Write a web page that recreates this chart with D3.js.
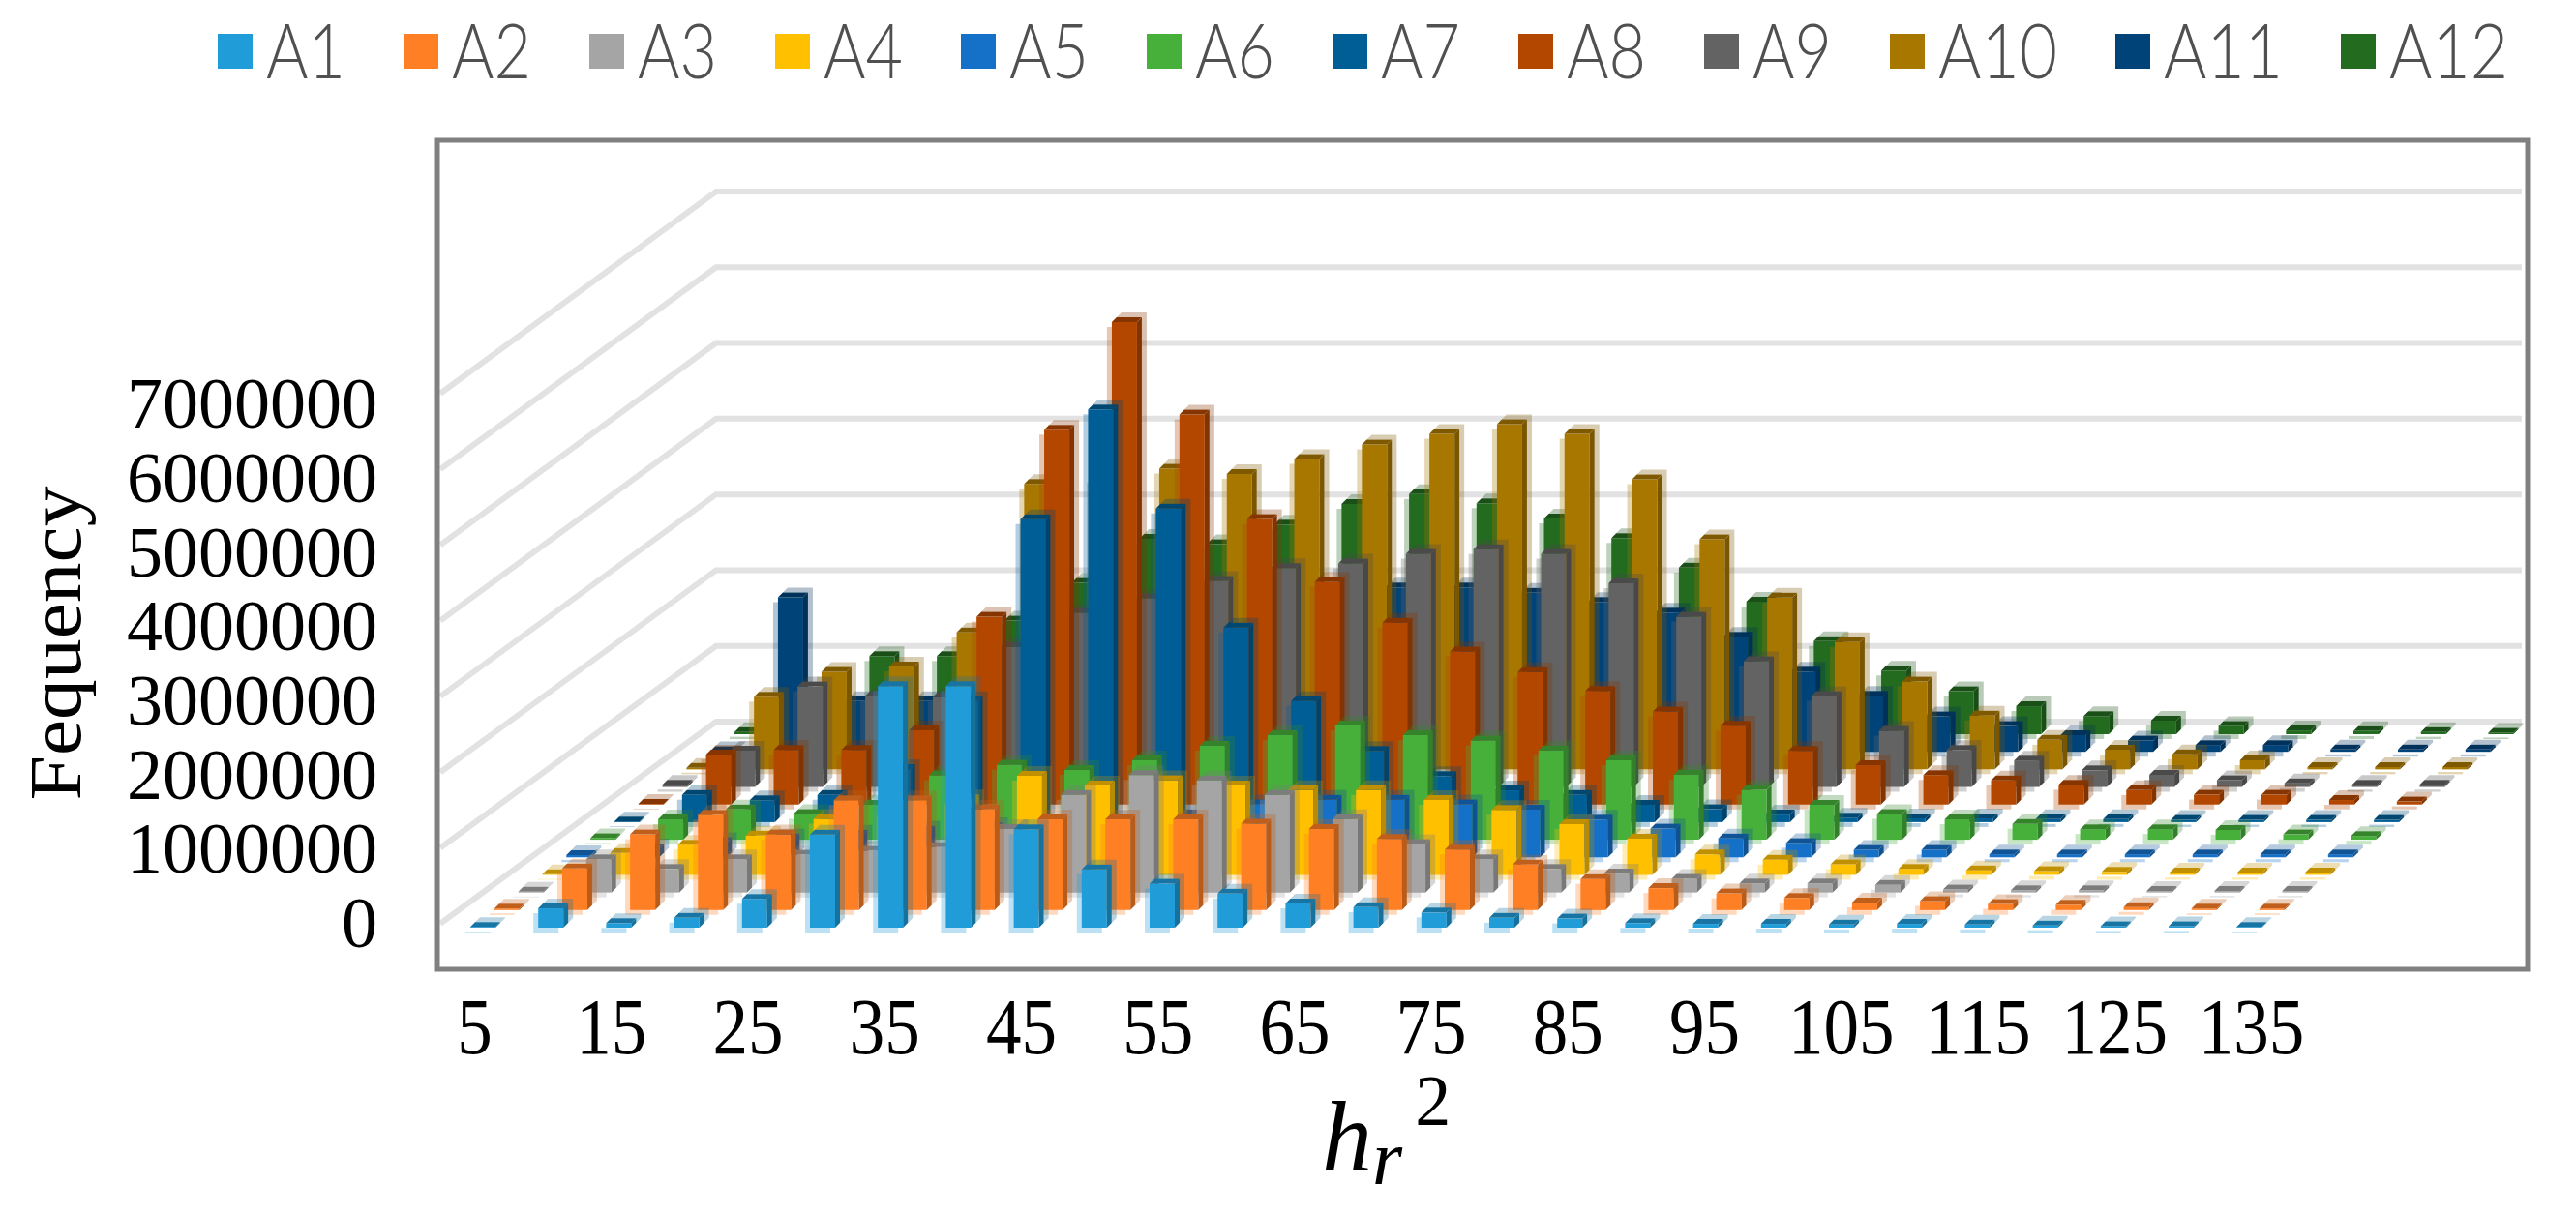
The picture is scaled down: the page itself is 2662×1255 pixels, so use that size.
<!DOCTYPE html>
<html>
<head>
<meta charset="utf-8">
<script src="https://cdn.jsdelivr.net/npm/d3@7"></script>
<style>
  html, body { margin: 0; padding: 0; background: #fff; }
  svg { display: block; }
</style>
</head>
<body>
<div id="chart-area"></div>
<script>
const categories = [5, 10, 15, 20, 25, 30, 35, 40, 45, 50, 55, 60, 65, 70, 75, 80, 85, 90, 95, 100, 105, 110, 115, 120, 125, 130, 135];
const xTicks = [5, 15, 25, 35, 45, 55, 65, 75, 85, 95, 105, 115, 125, 135];
const yTicks = [0, 1000000, 2000000, 3000000, 4000000, 5000000, 6000000, 7000000];
const seriesNames = ['A1', 'A2', 'A3', 'A4', 'A5', 'A6', 'A7', 'A8', 'A9', 'A10', 'A11', 'A12'];
const seriesColors = ['#209cd9', '#ff7f24', '#a5a5a5', '#ffc000', '#1570c8', '#46b03a', '#005e97', '#b34700', '#636363', '#a87700', '#004379', '#236b1f'];

const a1 = [10000, 255000, 60000, 130000, 380000, 1230000, 3190000, 3190000, 1300000, 770000, 580000, 450000, 320000, 270000, 200000, 130000, 120000, 60000, 50000, 50000, 40000, 50000, 40000, 30000, 20000, 20000, 10000];
const a2 = [20000, 550000, 1000000, 1260000, 1000000, 1450000, 1450000, 1330000, 1200000, 1200000, 1200000, 1140000, 1070000, 940000, 800000, 600000, 410000, 290000, 220000, 160000, 100000, 120000, 80000, 70000, 40000, 20000, 20000];
const a3 = [10000, 440000, 310000, 440000, 500000, 550000, 600000, 840000, 1290000, 1550000, 1480000, 1290000, 970000, 640000, 440000, 310000, 250000, 180000, 120000, 120000, 100000, 40000, 30000, 30000, 20000, 20000, 20000];
const a4 = [10000, 290000, 400000, 520000, 740000, 850000, 1000000, 1310000, 1180000, 1250000, 1180000, 1120000, 1120000, 990000, 860000, 670000, 480000, 270000, 200000, 140000, 80000, 60000, 50000, 40000, 30000, 30000, 30000];
const a5 = [30000, 120000, 200000, 250000, 300000, 350000, 400000, 450000, 500000, 570000, 700000, 760000, 760000, 700000, 630000, 500000, 380000, 250000, 190000, 100000, 100000, 40000, 40000, 40000, 40000, 40000, 40000];
const a6 = [20000, 270000, 400000, 340000, 460000, 850000, 990000, 920000, 1050000, 1240000, 1380000, 1510000, 1380000, 1310000, 1180000, 1050000, 860000, 660000, 460000, 340000, 270000, 210000, 140000, 140000, 130000, 70000, 50000];
const a7 = [10000, 360000, 290000, 360000, 700000, 1600000, 4000000, 5450000, 4140000, 2570000, 1600000, 940000, 610000, 420000, 360000, 230000, 170000, 100000, 60000, 50000, 50000, 40000, 40000, 30000, 30000, 30000, 30000];
const a8 = [10000, 660000, 720000, 720000, 980000, 2480000, 4950000, 6370000, 5150000, 3770000, 2940000, 2400000, 2020000, 1750000, 1500000, 1230000, 1040000, 710000, 520000, 390000, 320000, 260000, 190000, 130000, 130000, 60000, 40000];
const a9 = [30000, 480000, 1330000, 1200000, 1190000, 1850000, 2300000, 2490000, 2720000, 2890000, 2950000, 3080000, 3140000, 3080000, 2690000, 2250000, 1660000, 1200000, 740000, 490000, 350000, 220000, 160000, 90000, 50000, 30000, 30000];
const a10 = [20000, 960000, 1290000, 1360000, 1810000, 3770000, 3850000, 3970000, 3900000, 4100000, 4290000, 4430000, 4560000, 4430000, 3830000, 3040000, 2270000, 1680000, 1160000, 710000, 390000, 260000, 200000, 120000, 30000, 30000, 30000];
const a11 = [10000, 2040000, 670000, 670000, 900000, 1300000, 1700000, 2000000, 2100000, 2150000, 2170000, 2170000, 2100000, 1980000, 1840000, 1520000, 1060000, 740000, 470000, 340000, 220000, 150000, 90000, 90000, 30000, 30000, 30000];
const a12 = [30000, 200000, 1030000, 1030000, 1500000, 2000000, 2580000, 2510000, 2770000, 3040000, 3170000, 3050000, 2850000, 2590000, 2200000, 1750000, 1230000, 840000, 570000, 370000, 240000, 180000, 110000, 50000, 40000, 30000, 20000];
const seriesValues = [a1, a2, a3, a4, a5, a6, a7, a8, a9, a10, a11, a12];

const chartSize = { width: 2662, height: 1255 };
const frame = { left: 452, top: 145, right: 2612, bottom: 1002 };
const wall = { left: 740, right: 2606, floor: 746 };
const barWidth = 26, sideDepth = 5, ghost = 5;
const rowStart = 486;

const x = d3.scaleBand().domain(categories).range([rowStart, rowStart + 70.2 * categories.length]);
const depthX = d3.scalePoint().domain(seriesNames).range([0, 273]);
const depthY = d3.scalePoint().domain(seriesNames).range([959, 759]);
// rows further back are very slightly narrower
const depthShrink = d3.scalePoint().domain(seriesNames).range([1, 0.993]);
const barHeight = d3.scaleLinear().domain([0, 7000000]).range([0, 548]);

const initCanvas = () => d3.select('#chart-area').append('svg')
  .attr('width', chartSize.width)
  .attr('height', chartSize.height);

const drawFrame = svg => {
  svg.append('rect')
    .attr('x', frame.left)
    .attr('y', frame.top)
    .attr('width', frame.right - frame.left)
    .attr('height', frame.bottom - frame.top)
    .attr('fill', 'none')
    .attr('stroke', '#808080')
    .attr('stroke-width', 5);
};

const drawGrid = svg => {
  const slope = (depthY(seriesNames[0]) - depthY(seriesNames[11])) / depthX(seriesNames[11]);
  const side = wall.left - frame.left - 3;
  const g = svg.append('g').attr('class', 'grid').attr('fill', 'none');
  g.selectAll('polyline')
    .data(yTicks)
    .enter()
    .append('polyline')
    .attr('stroke', '#e2e2e2')
    .attr('stroke-width', 6)
    .attr('points', v => {
      const y = wall.floor - barHeight(v);
      return `${wall.left - side},${y + side * slope} ${wall.left},${y} ${wall.right},${y}`;
    });
};

const drawBars = svg => {
  const rows = seriesNames.map((name, s) => ({ name, color: seriesColors[s], values: seriesValues[s] })).reverse();
  const row = svg.append('g').attr('class', 'bars').selectAll('g')
    .data(rows)
    .enter()
    .append('g')
    .attr('class', d => d.name);

  const bars = row.selectAll('g')
    .data(d => d.values.map((v, i) => ({
      v,
      color: d.color,
      left: rowStart + (x(categories[i]) - rowStart) * depthShrink(d.name) + depthX(d.name),
      base: depthY(d.name)
    })))
    .enter()
    .append('g');

  const frontPts = d => {
    const top = d.base - barHeight(d.v);
    return [[d.left, top], [d.left + barWidth, top], [d.left + barWidth, d.base], [d.left, d.base]];
  };
  const topPts = d => {
    const top = d.base - barHeight(d.v);
    return [[d.left, top], [d.left + sideDepth, top - sideDepth], [d.left + barWidth + sideDepth, top - sideDepth], [d.left + barWidth, top]];
  };
  const sidePts = d => {
    const top = d.base - barHeight(d.v);
    return [[d.left + barWidth, top], [d.left + barWidth + sideDepth, top - sideDepth], [d.left + barWidth + sideDepth, d.base - sideDepth], [d.left + barWidth, d.base]];
  };
  const shift = (pts, dx, dy) => pts.map(([px, py]) => `${px + dx},${py + dy}`).join(' ');

  // soft double image around each bar, as in the low resolution source
  bars.append('polygon')
    .attr('points', d => shift(frontPts(d), -ghost, ghost))
    .attr('fill', d => d.color)
    .attr('opacity', 0.3);
  bars.append('polygon')
    .attr('points', d => shift(topPts(d), ghost, -ghost))
    .attr('fill', d => d3.rgb(d.color).darker(0.8))
    .attr('opacity', 0.3);
  bars.append('polygon')
    .attr('points', d => shift(sidePts(d), ghost, -ghost))
    .attr('fill', d => d3.rgb(d.color).darker(0.9))
    .attr('opacity', 0.3);

  bars.append('polygon')
    .attr('points', d => shift(frontPts(d), 0, 0))
    .attr('fill', d => d.color);
  bars.append('polygon')
    .attr('points', d => shift(topPts(d), 0, 0))
    .attr('fill', d => d3.rgb(d.color).darker(0.8));
  bars.append('polygon')
    .attr('points', d => shift(sidePts(d), 0, 0))
    .attr('fill', d => d3.rgb(d.color).darker(0.9));
};

const drawAxes = svg => {
  const yLabels = d3.scaleLinear().domain([0, 7000000]).range([955, 418]);
  const yAxis = d3.axisLeft(yLabels).tickValues(yTicks).tickFormat(d3.format('d')).tickSize(0).tickPadding(0);
  svg.append('g')
    .attr('class', 'y axis')
    .attr('transform', 'translate(390,0)')
    .call(yAxis)
    .call(g => g.select('.domain').remove())
    .selectAll('text')
    .attr('font-family', '"Liberation Serif", serif')
    .attr('font-size', 74)
    .attr('fill', '#000');

  const xLabels = d3.scalePoint().domain(categories).range([490, 2326]);
  const xAxis = d3.axisBottom(xLabels).tickValues(xTicks).tickSize(0).tickPadding(0);
  svg.append('g')
    .attr('class', 'x axis')
    .attr('transform', 'translate(0,1031)')
    .call(xAxis)
    .call(g => g.select('.domain').remove())
    .selectAll('text')
    .attr('font-family', '"Liberation Serif", serif')
    .attr('font-size', 82)
    .attr('fill', '#000')
    .attr('textLength', d => String(d).length * 36.5)
    .attr('lengthAdjust', 'spacingAndGlyphs');

  svg.append('text')
    .attr('class', 'y axis-label')
    .attr('transform', 'translate(83,665) rotate(-90)')
    .attr('text-anchor', 'middle')
    .attr('font-family', '"Liberation Serif", serif')
    .attr('font-size', 76)
    .attr('textLength', 325)
    .attr('lengthAdjust', 'spacingAndGlyphs')
    .text('Fequency');

  const title = svg.append('text')
    .attr('class', 'x axis-label')
    .attr('x', 1366)
    .attr('y', 1210)
    .attr('font-family', '"Liberation Serif", serif')
    .attr('fill', '#000');
  title.append('tspan').attr('font-size', 104).attr('font-style', 'italic').text('h');
  title.append('tspan').attr('dy', 14).attr('font-size', 80).attr('font-style', 'italic').text('r');
  title.append('tspan').attr('dx', 13).attr('dy', -61).attr('font-size', 74).text('2');
};

const drawLegend = svg => {
  let pos = 225;
  seriesNames.forEach((name, s) => {
    const textWidth = name.length * 41;
    svg.append('rect')
      .attr('x', pos)
      .attr('y', 35)
      .attr('width', 36)
      .attr('height', 36)
      .attr('fill', seriesColors[s]);
    svg.append('text')
      .attr('x', pos + 50)
      .attr('y', 81)
      .attr('font-family', 'Lato, "Noto Sans", sans-serif')
      .attr('font-weight', 300)
      .attr('font-size', 78)
      .attr('fill', '#505050')
      .attr('textLength', textWidth)
      .attr('lengthAdjust', 'spacingAndGlyphs')
      .text(name);
    pos += 36 + 14 + textWidth + 60;
  });
};

const main = () => {
  const svg = initCanvas();
  drawGrid(svg);
  drawFrame(svg);
  drawBars(svg);
  drawAxes(svg);
  drawLegend(svg);
};
window.onload = main;
</script>
</body>
</html>
